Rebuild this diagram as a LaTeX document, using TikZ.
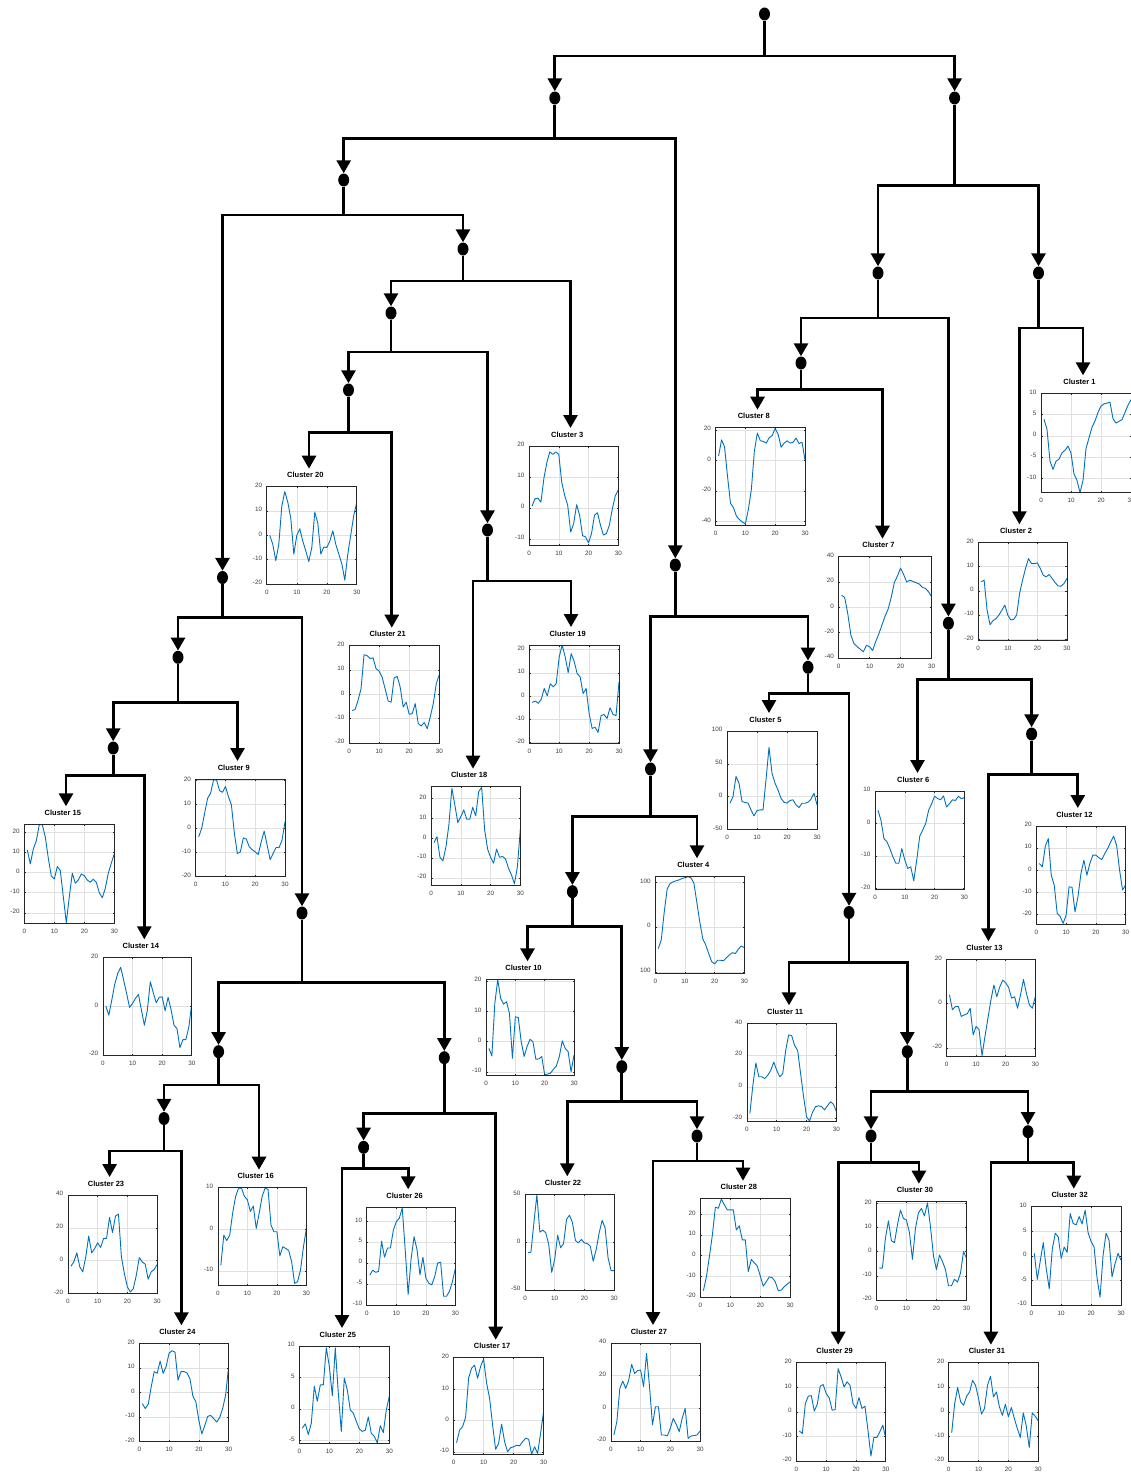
\documentclass[tikz,border=0pt]{standalone}
\usepackage{fontspec}
\setmainfont{Liberation Sans}
\usetikzlibrary{arrows.meta,shapes.geometric}
\definecolor{mblue}{RGB}{0,114,189}
\definecolor{axgray}{RGB}{38,38,38}
\definecolor{gridgray}{RGB}{224,224,224}
\definecolor{tickgray}{RGB}{60,60,60}

\tikzset{
  jdot/.style={ellipse, fill=black, minimum width=11pt, minimum height=13pt, inner sep=0pt},
  conn/.style={line width=2.8pt, -{Triangle[width=14pt,length=13pt]}},
  curveln/.style={mblue, line width=0.9pt, line join=round},
  axbox/.style={axgray, line width=0.7pt},
  tickmk/.style={axgray, line width=0.5pt},
  gridln/.style={gridgray, line width=0.5pt},
  ttl/.style={font=\fontsize{7.5}{9}\selectfont\bfseries, inner sep=0pt},
  ytl/.style={font=\fontsize{6.3}{7.5}\selectfont, text=tickgray, anchor=east, inner sep=0pt, xshift=-4.5pt, yshift=1.3pt},
  xtl/.style={font=\fontsize{6.3}{7.5}\selectfont, text=tickgray, inner sep=0pt, yshift=-8pt},
}

% one small line chart: #1 number, #2 left, #3 top, #4 width, #5 height,
% #6 ymin, #7 ymax, #8 y ticks (value/label), #9 thirty samples
\newcommand\cplot[9]{%
  \pgfmathsetmacro\cpxu{#4/30}%
  \pgfmathsetmacro\cpyu{#5/(#7-(#6))}%
  \pgfmathsetmacro\cpoy{#3+(#7)*\cpyu}%
  \begin{scope}[shift={(#2,\cpoy)}, x=\cpxu pt, y=\cpyu pt]
    \foreach \gx in {10,20}{\draw[gridln] (\gx,#6) -- (\gx,#7);}
    \foreach \gy/\gl in {#8}{\draw[gridln] (0,\gy) -- (30,\gy);}
    \def\cppath{}%
    \foreach \v [count=\i] in {#9}{\xdef\cppath{\cppath(\i,\v)}}%
    \begin{scope}
      \clip (0,#6) rectangle (30,#7);
      \edef\cpnext{\noexpand\draw[curveln] plot coordinates {\cppath};}\cpnext
    \end{scope}
    \draw[axbox] (0,#6) rectangle (30,#7);
    \foreach \gx in {10,20}{\draw[tickmk] (\gx,#6) -- ++(0pt,1.5pt); \draw[tickmk] (\gx,#7) -- ++(0pt,-1.5pt);}
    \foreach \gy/\gl in {#8}{\draw[tickmk] (0,\gy) -- ++(1.5pt,0pt); \draw[tickmk] (30,\gy) -- ++(-1.5pt,0pt);
      \node[ytl] (c#1y\gy) at (0,\gy) {\gl};}
    \foreach \gx in {0,10,20,30}{\node[xtl] (c#1x\gx) at (\gx,#6) {\gx};}
    \node[ttl, xshift=-6.5pt, yshift=11.5pt] (t#1) at (15,#7) {Cluster #1};
  \end{scope}}

% junction dot with the level of its branching bar
\newcommand\junc[4]{\node[jdot] (#1) at (#2,#3) {}; \coordinate (#1-b) at (#2,#4);}
\newcommand\tbranch[2]{\draw[conn] (#1) -- (#1-b) -| (#2);}

\begin{document}
\begin{tikzpicture}[x=1pt,y=-1pt]
\fill[white] (0,0) rectangle (1130,1472);
\useasboundingbox (0,0) rectangle (1130,1472);

% junctions
\junc{root}{764.5}{14}{56}
\junc{n1}{554.8}{98}{138.7}
\junc{n2}{954.6}{98}{185.7}
\junc{a}{343.7}{180}{215}
\junc{b}{675.3}{565}{616.3}
\junc{a1}{222.5}{577.5}{617.7}
\junc{a2}{463}{249}{281}
\junc{a21}{391}{313}{352}
\junc{a211}{348.5}{390}{432.3}
\junc{a212}{487.5}{530}{581}
\junc{a11}{178}{657.3}{702.3}
\junc{a12}{302}{913}{982.3}
\junc{a111}{113.2}{748}{775.7}
\junc{a121}{218.6}{1051.7}{1085}
\junc{a122}{444.3}{1057.7}{1113.3}
\junc{a1211}{164}{1118.5}{1151}
\junc{a1221}{363.6}{1147.3}{1168.3}
\junc{b1}{650.5}{769}{816.7}
\junc{b2}{808}{667.3}{693.7}
\junc{b11}{572.4}{891.7}{926.7}
\junc{b112}{621.8}{1066.7}{1101.7}
\junc{b1122}{697}{1136}{1161}
\junc{b22}{849}{912.5}{962.3}
\junc{b222}{907.3}{1051.7}{1091.7}
\junc{b2221}{871}{1136}{1162.7}
\junc{b2222}{1028}{1131.7}{1162.7}
\junc{c1}{878}{273}{318}
\junc{c2}{1038.5}{273}{328}
\junc{c11}{801}{363}{389.5}
\junc{c12}{948.4}{623.3}{679.3}
\junc{c122}{1031.6}{734}{774.3}

% arrow ends above the cluster charts
\coordinate (k1) at (1083,375.3);
\coordinate (k2) at (1019.4,524.3);
\coordinate (k3) at (570.5,428);
\coordinate (k4) at (697,858.3);
\coordinate (k5) at (769,713);
\coordinate (k6) at (917.5,773);
\coordinate (k7) at (882.5,538.7);
\coordinate (k8) at (757.5,409.7);
\coordinate (k9) at (237.5,761);
\coordinate (k10) at (527.5,961.3);
\coordinate (k11) at (789,1005.3);
\coordinate (k12) at (1077.8,808);
\coordinate (k13) at (988.4,941.3);
\coordinate (k14) at (144.3,939.3);
\coordinate (k15) at (66,806.3);
\coordinate (k16) at (259,1169.7);
\coordinate (k17) at (495.7,1339.7);
\coordinate (k18) at (473,768.7);
\coordinate (k19) at (571,627);
\coordinate (k20) at (309,468.7);
\coordinate (k21) at (391.8,627.7);
\coordinate (k22) at (567.3,1176.3);
\coordinate (k23) at (109.6,1177);
\coordinate (k24) at (181.4,1325.3);
\coordinate (k25) at (342,1328);
\coordinate (k26) at (408.2,1189.3);
\coordinate (k27) at (653,1325);
\coordinate (k28) at (743,1180.7);
\coordinate (k29) at (838.2,1344.7);
\coordinate (k30) at (918.9,1183.7);
\coordinate (k31) at (990.9,1344.7);
\coordinate (k32) at (1073.8,1188.7);

% tree connectors
\tbranch{root}{n1} \tbranch{root}{n2}
\tbranch{n1}{a} \tbranch{n1}{b}
\tbranch{a}{a1} \tbranch{a}{a2}
\tbranch{a2}{a21} \tbranch{a2}{k3}
\tbranch{a21}{a211} \tbranch{a21}{a212}
\tbranch{a211}{k20} \tbranch{a211}{k21}
\tbranch{a212}{k18} \tbranch{a212}{k19}
\tbranch{a1}{a11} \tbranch{a1}{a12}
\tbranch{a11}{a111} \tbranch{a11}{k9}
\tbranch{a111}{k15} \tbranch{a111}{k14}
\tbranch{a12}{a121} \tbranch{a12}{a122}
\tbranch{a121}{a1211} \tbranch{a121}{k16}
\tbranch{a1211}{k23} \tbranch{a1211}{k24}
\tbranch{a122}{a1221} \tbranch{a122}{k17}
\tbranch{a1221}{k25} \tbranch{a1221}{k26}
\tbranch{b}{b1} \tbranch{b}{b2}
\tbranch{b1}{b11} \tbranch{b1}{k4}
\tbranch{b11}{k10} \tbranch{b11}{b112}
\tbranch{b112}{k22} \tbranch{b112}{b1122}
\tbranch{b1122}{k27} \tbranch{b1122}{k28}
\tbranch{b2}{k5} \tbranch{b2}{b22}
\tbranch{b22}{k11} \tbranch{b22}{b222}
\tbranch{b222}{b2221} \tbranch{b222}{b2222}
\tbranch{b2221}{k29} \tbranch{b2221}{k30}
\tbranch{b2222}{k31} \tbranch{b2222}{k32}
\tbranch{n2}{c1} \tbranch{n2}{c2}
\tbranch{c1}{c11} \tbranch{c1}{c12}
\tbranch{c11}{k8} \tbranch{c11}{k7}
\tbranch{c2}{k2} \tbranch{c2}{k1}
\tbranch{c12}{k6} \tbranch{c12}{c122}
\tbranch{c122}{k13} \tbranch{c122}{k12}

% cluster charts
\cplot{1}{1041}{393.3}{90}{99.4}{-13.4}{10}{-10/-10,-5/-5,0/0,5/5,10/10}
  {3.9,1.5,-6.0,-7.9,-6.0,-5.5,-4.0,-3.4,-2.4,-4.1,-9.0,-10.5,-13.4,-10.5,-3.0,-0.5,2.0,3.5,5.5,7.0,7.5,7.7,7.9,4.0,3.0,3.4,3.8,5.5,7.2,8.5}
\cplot{2}{978.2}{542.3}{88.7}{97.7}{-20.3}{20}{-20/-20,-10/-10,0/0,10/10,20/20}
  {3.7,4.4,-8,-14,-12.3,-11.5,-10,-8,-5.9,-10,-12,-11.8,-10,-1.1,4.4,9.2,13.3,11.2,11.2,11.5,9.2,6.4,5.8,6.7,5.1,3.4,2,1.9,3,5.1}
\cplot{3}{529}{446}{89.3}{99}{-11.9}{20}{-10/-10,0/0,10/10,20/20}
  {0.6,3,3.2,1.9,9.6,14.7,18.1,17.3,18.1,17.3,8.3,4,0.9,-7.7,-5,1.1,-2.3,-8.9,-9.3,-11.2,-8.2,-2.3,-1.5,-5.5,-8.7,-8.2,-5.5,-0.2,4,5.9}
\cplot{4}{655.3}{876.3}{89}{97}{-103}{113}{-100/100,0/0,100/100}
  {-48,-29,33,85,97,100.7,103,105,108,110,112,110,98,55,11,-26,-40,-59,-77,-82,-74,-74,-75,-68,-62,-57,-59,-49,-42,-46}
\cplot{5}{727}{731}{90}{98.3}{-50}{100}{-50/-50,0/0,50/50,100/100}
  {-10,0,30.6,20.4,-7.6,-9,-10,-20.4,-29.6,-21.4,-20.4,-20.4,25.5,75,35.7,20.4,10,-2.6,-8.7,-10,-6,-5,-12.7,-16.8,-10.2,-10.2,-8.7,-4,5,-12.7}
\cplot{6}{875}{791}{89.4}{98.3}{-20.2}{10}{-20/-20,-10/-10,0/0,10/10}
  {4.1,1,-4.6,-5.6,-7.7,-10.2,-12.2,-12.2,-7.7,-11.2,-13.8,-13.3,-17.6,-11.2,-3.9,-2,0,4.1,6.1,8.4,7.7,7.3,8.5,5.1,6.1,7.3,7.1,8.4,7.6,8}
\cplot{7}{838.5}{556.7}{93}{102}{-40.5}{40}{-40/-40,-20/-20,0/0,20/20,40/40}
  {9.6,7.8,-5.2,-22,-28.6,-31,-33,-35,-30,-31,-34,-27,-21,-14,-7,-1.3,7.8,19.5,24.7,31,26,20,21.5,20.5,19.5,18.5,16,15,12.5,8.5}
\cplot{8}{715.6}{427.7}{89.4}{97.6}{-42.5}{21.5}{-40/-40,-20/-20,0/0,20/20}
  {3,13.5,9,-10.5,-28,-31,-36.5,-38.7,-40.4,-41.5,-32,-19,6,18,13,12.5,11.4,15,16.4,21,17,8.7,11.4,12.9,11.4,12,14.7,11,12,0.4}
\cplot{9}{195.7}{779}{89.3}{97.7}{-20}{20.5}{-20/-20,-10/-10,0/0,10/10,20/20}
  {-3.5,0,6.3,12.5,14.6,20.1,20.1,15.7,15,17.4,13.2,9.7,-2.1,-10.4,-9.7,-3.9,-4.4,-7.6,-8.8,-9.7,-10.8,-5.6,-1.1,-6.9,-12.9,-10.4,-7.9,-7.9,-4.9,2.8}
\cplot{10}{486}{979.3}{88}{95.7}{-11}{20.6}{-10/-10,0/0,10/10,20/20}
  {-2.2,-4.7,12.6,20.5,14.3,12.4,13.2,9.3,-5.5,8.2,8,0,-4.9,-1.6,0.8,0,-5.8,-5.7,-4.9,-10.9,-10.7,-10.4,-9.1,-8,-4.9,0.3,-2.2,-3.3,-9.9,-4.4}
\cplot{11}{746.9}{1023.3}{89.5}{98.4}{-22}{40}{-20/-20,0/0,20/20,40/40}
  {-16.7,1,15,6.3,6.3,5.2,7.3,10.4,15.6,10.4,6.3,8.3,22.9,32.7,32.3,26,22.9,8.3,-6.3,-19,-21.5,-16,-12.5,-12,-12.4,-14.5,-12,-9.4,-11,-15.6}
\cplot{12}{1036.4}{826}{89.1}{98}{-24.4}{20}{-20/-20,-10/-10,0/0,10/10,20/20}
  {3,1.5,10.9,14.3,-2.3,-6.8,-19.6,-21,-24.1,-20.4,-7.5,-7.8,-18.9,-12,-1.5,4.5,-2.3,3,6.8,6.8,5.7,4.8,7.5,9.8,12.8,15.4,11.3,0,-9,-6.8}
\cplot{13}{946.5}{959.3}{88.8}{97.4}{-24}{20}{-20/-20,0/0,20/20}
  {3.9,-2.8,-1.3,-1.3,-5.8,-5.1,-4.6,-2.1,-14.1,-10.3,-11.8,-23.5,-14.8,-6.6,1.6,8.4,3.1,7.6,10.6,9.4,7.2,2.4,3.1,-2.1,3.9,10.9,4.6,-0.6,-2.1,3.1}
\cplot{14}{102.9}{957.3}{88.9}{97.7}{-20}{20}{-20/-20,0/0,20/20}
  {0,-3.7,2.5,9,13.4,15.9,10.7,5.2,-0.5,1.1,3.2,4.8,-1.6,-7.8,-1.6,10,5.5,1.4,3.6,3.8,-1.9,3.6,-1.4,-7.8,-9.2,-17,-13.7,-13.7,-8.5,1.1}
\cplot{15}{24.3}{824.3}{90}{99}{-25.2}{24}{-20/-20,-10/-10,0/0,10/10,20/20}
  {11.3,4.3,11.7,15.8,23.8,23.8,17.7,7.2,-1.7,-3.2,3,1,-12,-24.8,-12,-0.3,-5.3,-3.7,-0.7,-1.5,-3.7,-4.8,-3.3,-4.8,-10,-12.5,-7.8,-0.3,4.7,9.3}
\cplot{16}{217.9}{1187.7}{88.5}{97.3}{-13.4}{10}{-10/-10,0/0,10/10}
  {-8.6,-1.4,-2.7,-1.4,3.9,7.9,9.9,9.9,7.9,7.1,4.3,5.6,0.2,3.9,7.9,9.9,9.6,1,-0.6,-0.6,-6.4,-4.2,-4.6,-5.1,-7.8,-13,-12.6,-9.8,-4.2,0.2}
\cplot{17}{453.6}{1357.7}{90}{96.6}{-10.7}{20}{-10/-10,0/0,10/10,20/20}
  {-7,-3,-1.9,1.1,13.5,16.7,17.6,13.5,17.2,19.6,11.9,7.1,-1.4,-9.1,-7.2,-1.1,-6.7,-9.9,-8.6,-8.3,-7.8,-8,-6.7,-5.6,-5.9,-10.6,-8.3,-10.4,-4,2.9}
\cplot{18}{431}{786.7}{89.4}{98.3}{-23.6}{26}{-20/-20,-10/-10,0/0,10/10,20/20}
  {-2.2,0.8,-9.6,-11.4,-4.5,6.7,25.2,16.8,7.9,10.9,14.3,9.6,9.6,15.6,11.3,23.5,25.7,4.2,-5.5,-9.7,-12.6,-5.5,-9.6,-9.2,-10.4,-15.1,-18.5,-23,-14.3,5}
\cplot{19}{529.3}{645}{89.7}{98.3}{-20.3}{22}{-20/-20,-10/-10,0/0,10/10,20/20}
  {-2.7,-2.1,-3.1,-1.3,3.3,0.1,5.3,4,5.4,16.9,22,16.9,10.1,18.3,15,9.7,8.3,1.1,3.3,-7.4,-13.9,-13.4,-15.6,-8.4,-7.9,-9.6,-5,-7.9,-8.4,6.1}
\cplot{20}{266.8}{486.7}{90}{97.3}{-20}{20}{-20/-20,-10/-10,0/0,10/10,20/20}
  {0,-3.7,-10.4,-3.7,12,18,13.6,7,-7.7,0,2.7,-2.4,-6.4,-10.8,-5,9.6,5,-7.7,-4.8,-5,-2.4,1.9,-3.7,-7.7,-11.7,-18.4,-7.7,0.3,8.3,13.6}
\cplot{21}{349}{645.7}{90.3}{97.3}{-20}{20}{-20/-20,-10/-10,0/0,10/10,20/20}
  {-6.6,-6.3,-2.5,2.3,16.3,15.9,14.7,15,10.5,9.6,7.1,2.3,-2.7,-3.2,6.7,7.4,3,-5.2,-3.2,-8.2,-7.9,-3.8,-12,-13,-11.6,-14.1,-9.3,-3.8,4.4,8.1}
\cplot{22}{525}{1194.3}{89}{95.7}{-50}{50}{-50/-50,0/0,50/50}
  {-11.2,-10.5,20.3,49.5,10.5,12.6,9.8,-2.4,-31.5,-18.2,7.3,-5.9,-1.4,23.8,28.3,20.3,1.7,-0.7,2.8,-0.7,-1.4,-4.2,-19.9,-7.7,9.8,22.7,15,-16.4,-29.7,-29.7}
\cplot{23}{67.9}{1195}{89.2}{98.3}{-20}{40}{-20/-20,0/0,20/20,40/40}
  {-3.5,-0.8,4.7,-3.9,-6.9,2.2,14.9,4.7,7.3,10.8,8,13.5,13.5,26.3,17.1,27.1,28.4,2.2,-8,-16.1,-19.2,-17.1,-9,1.8,-0.8,-2.2,-11.4,-6.9,-5.5,-2.4}
\cplot{24}{139.3}{1343.3}{89.3}{98.4}{-20}{20}{-20/-20,-10/-10,0/0,10/10,20/20}
  {-4.5,-6.5,-4.8,2.3,8.5,7.8,12.8,7.8,10.5,16,17,16.4,5,8.5,8.5,8,5.7,-1.5,-3.8,-11.3,-16.8,-13.4,-9.7,-9.3,-10.6,-12,-10.2,-6.5,-1.1,10.5}
\cplot{25}{299.3}{1346}{90}{97.3}{-5.5}{10}{-5/-5,0/0,5/5,10/10}
  {-3.1,-2.4,-4.1,-2.3,3.6,1.2,3.8,3.8,9.7,6.8,2.1,9.7,2.5,-3.6,4.9,3,-0.2,-0.7,-2,-3.2,-3.6,-3.4,-1.3,-3.9,-4.4,-5.4,-2.7,-3.8,-0.2,2}
\cplot{26}{366.8}{1207.3}{88.6}{97.7}{-10}{13.3}{-10/-10,-5/-5,0/0,5/5,10/10}
  {-2.9,-1.7,-2.2,-2,5.2,1.4,3.6,3.6,7.9,9.9,10.7,13.1,3.2,-7.5,1,6.3,3.2,-2.8,1.4,-3.6,-4.8,-5.2,-3.2,0,0.2,-7.9,-7.9,-6.7,-4.4,-1.2}
\cplot{27}{610.9}{1343}{89.1}{98}{-20}{40}{-20/-20,0/0,20/20,40/40}
  {-16.3,-8.2,12.2,16.7,12.2,17.3,26.9,21.4,23.1,23.5,13.3,33.7,13.3,-10.2,1,1,-16.3,-16.3,-16.9,-12.2,-6.1,-9.8,-14.3,-6.1,0,-18.4,-16.9,-16.7,-16.3,-13.9}
\cplot{28}{700.4}{1198.7}{89.8}{98.6}{-20.1}{27.5}{-20/-20,-10/-10,0/0,10/10,20/20}
  {-16.9,-10.2,-0.5,10,23.4,22.9,27.3,24.5,22.1,22.1,22.1,12.4,14.4,7.6,7.6,-7.7,-1.8,-3.4,-5,-9.8,-14.7,-12.6,-10.2,-10.6,-12.6,-16.9,-16.6,-15,-13.7,-12.6}
\cplot{29}{796.4}{1362.7}{89.4}{98.3}{-20}{20}{-20/-20,-10/-10,0/0,10/10,20/20}
  {-7.8,-8.8,3.4,6.4,6.6,0.3,3.1,10.5,11.1,7.4,5.7,0.7,0.9,17.6,14.2,10.1,12.2,10.8,3.4,1.4,5.8,1.4,2.3,-7.4,-18,-10.4,-10.4,-8.1,-5.4,-10.8}
\cplot{30}{876.4}{1201.7}{90.1}{98.3}{-20}{20.6}{-20/-20,-10/-10,0/0,10/10,20/20}
  {-6.8,-6.8,5.5,12.7,4.5,3.7,11,17.1,13.7,13,7.8,-3.2,9.6,16,17.8,14.7,20.1,10.3,-1.8,-7.5,-1.4,-4.1,-7.5,-14.1,-14.1,-11.4,-12.6,-8.9,0,-2.7}
\cplot{31}{948.7}{1362.7}{89.5}{98.3}{-20}{20}{-20/-20,-10/-10,0/0,10/10,20/20}
  {-8.5,3.4,9.9,4.1,2.7,6.4,8.1,12.8,10.8,5.4,-0.9,1.4,10.8,14.5,6.1,8.1,2,-1.4,3.1,-2,1.8,-2.7,-6.8,-10.4,-0.4,-5.8,-14.5,-0.4,-1.8,-3.6}
\cplot{32}{1031.3}{1206.7}{89.7}{98.3}{-10}{10}{-10/-10,-5/-5,0/0,5/5,10/10}
  {0.5,-4.8,-1,2.7,-2.6,-6.7,1.3,4.6,3.9,-0.5,1.8,0.7,8.6,6.6,6.3,8,6.5,9.3,4.7,2.9,1.8,-4.6,-8.4,0.1,4.6,3.2,-4.3,-1.6,0.5,-0.9}
\end{tikzpicture}
\end{document}
